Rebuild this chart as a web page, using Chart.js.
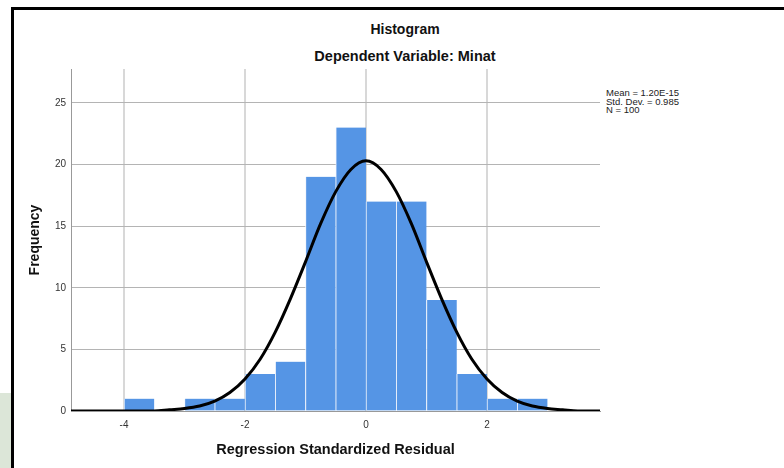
<!DOCTYPE html>
<html lang="en">
<head>
  <meta charset="UTF-8">
  <title>Histogram</title>
  <script src="https://cdn.jsdelivr.net/npm/chart.js"></script>
  <style>
    body {
      margin: 0;
      width: 784px;
      height: 468px;
      overflow: hidden;
      background: #fff;
      font-family: Arial, "Liberation Sans", sans-serif;
      position: relative;
    }
    #frame {
      position: absolute;
      left: 11px;
      top: 7px;
      width: 800px;
      height: 500px;
      border-left: 3px solid #000;
      border-top: 3px solid #000;
    }
    #leaf {
      position: absolute;
      left: 0;
      top: 393px;
      width: 11px;
      height: 75px;
      background: #dce6d8;
    }
    .title {
      position: absolute;
      left: 255px;
      width: 300px;
      text-align: center;
      font-weight: bold;
      color: #111;
    }
    #stats {
      position: absolute;
      left: 606px;
      top: 89px;
      font-size: 9.5px;
      line-height: 8.5px;
      color: #222;
    }
    #wrap {
      position: absolute;
      left: 0;
      top: 0;
      width: 784px;
      height: 468px;
    }
  </style>
</head>
<body>
  <div id="leaf"></div>
  <div id="frame"></div>
  <div class="title" style="top:21px;font-size:14px;">Histogram</div>
  <div class="title" style="top:48px;font-size:14.5px;">Dependent Variable: Minat</div>
  <div id="stats">Mean = 1.20E-15<br>Std. Dev. = 0.985<br>N = 100</div>
  <div id="wrap"><canvas id="hist"></canvas></div>

  <script>
    // histogram bins (width 0.5) and counts
    const binCenters = [-3.75, -3.25, -2.75, -2.25, -1.75, -1.25, -0.75, -0.25, 0.25, 0.75, 1.25, 1.75, 2.25, 2.75];
    const binCounts  = [1, 0, 1, 1, 3, 4, 19, 23, 17, 17, 9, 3, 1, 1];

    // normal curve
    const curveX = [-4.88, -4, -3.75, -3.5, -3.25, -3, -2.75, -2.5, -2.25, -2, -1.75, -1.5, -1.25, -1, -0.75, -0.5, -0.25,
                    0, 0.25, 0.5, 0.75, 1, 1.25, 1.5, 1.75, 2, 2.25, 2.5, 2.75, 3, 3.25, 3.5, 3.75, 3.87];
    const curveY = [0, 0, 0, 0, 0.1, 0.2, 0.4, 0.8, 1.5, 2.6, 4.2, 6.4, 9.1, 12.1, 15.2, 17.8, 19.6,
                    20.3, 19.6, 17.8, 15.2, 12.1, 9.1, 6.4, 4.2, 2.6, 1.5, 0.8, 0.4, 0.2, 0.1, 0, 0, 0];

    const xTicks = [-4, -2, 0, 2];
    const yTicks = [0, 5, 10, 15, 20, 25];

    const font = "Arial, 'Liberation Sans', sans-serif";

    new Chart(document.getElementById("hist"), {
      type: "bar",
      data: {
        datasets: [
          {
            type: "line",
            data: curveX.map((x, i) => ({ x: x, y: curveY[i] })),
            borderColor: "#000",
            borderWidth: 3,
            pointRadius: 0,
            cubicInterpolationMode: "monotone",
            fill: false,
            order: 0
          },
          {
            data: binCenters.map((x, i) => ({ x: x, y: binCounts[i] })),
            backgroundColor: "#5595e5",
            borderColor: "#f2f6fc",
            borderWidth: { left: 1, right: 0, top: 0, bottom: 0 },
            borderSkipped: false,
            barPercentage: 1,
            categoryPercentage: 1,
            order: 1
          }
        ]
      },
      options: {
        responsive: true,
        maintainAspectRatio: false,
        animation: false,
        layout: { padding: { top: 69, right: 184, left: 0, bottom: 0 } },
        plugins: {
          legend: { display: false },
          tooltip: { enabled: false }
        },
        scales: {
          x: {
            type: "linear",
            offset: false,
            min: -4.876,
            max: 3.868,
            afterBuildTicks: s => { s.ticks = xTicks.map(v => ({ value: v })); },
            afterFit: s => { s.height = 57; },
            grid: { color: "#d8d8d8", lineWidth: 2, drawTicks: false, offset: false },
            border: { color: "#999", width: 1 },
            ticks: { color: "#333", font: { family: font, size: 10 }, padding: 8, maxRotation: 0 },
            title: {
              display: true,
              text: "Regression Standardized Residual",
              color: "#111",
              font: { family: font, size: 14.5, weight: "bold" },
              padding: { top: 0, bottom: 9 }
            }
          },
          y: {
            min: 0,
            max: 27.75,
            afterBuildTicks: s => { s.ticks = yTicks.map(v => ({ value: v })); },
            afterFit: s => { s.width = 71; },
            grid: { color: "#b4b4b4", lineWidth: 1, drawTicks: false },
            border: { color: "#999", width: 1 },
            ticks: { color: "#333", font: { family: font, size: 10 }, padding: 5 },
            title: {
              display: true,
              text: "Frequency",
              color: "#111",
              font: { family: font, size: 14, weight: "bold" },
              padding: { top: 27, bottom: 0 }
            }
          }
        }
      }
    });
  </script>
</body>
</html>
